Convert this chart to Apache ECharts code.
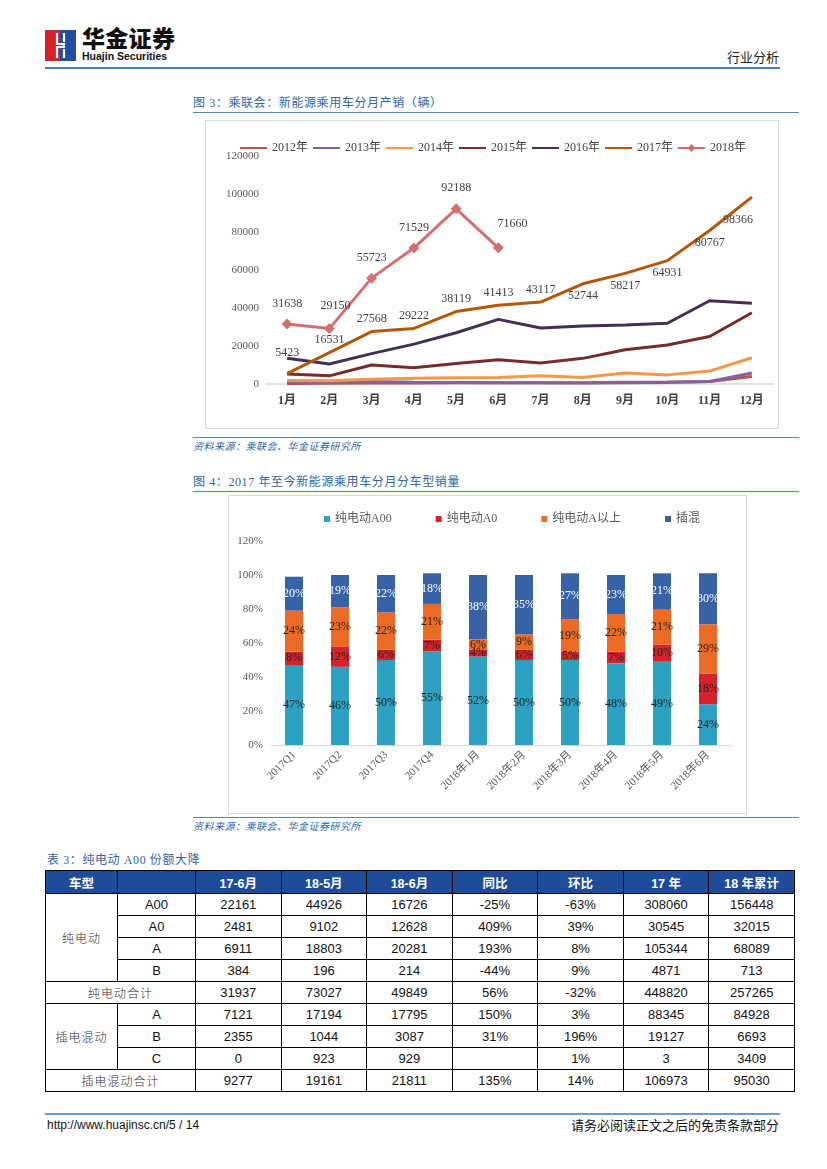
<!DOCTYPE html>
<html><head><meta charset="utf-8">
<script src="https://cdn.jsdelivr.net/npm/echarts@6/dist/echarts.min.js"></script>
<style>
html,body{margin:0;padding:0;background:#fff;}
body{width:827px;height:1169px;position:relative;overflow:hidden;font-family:"Noto Sans CJK SC",sans-serif;}
.abs{position:absolute;white-space:nowrap;}
.hline{position:absolute;height:0;border-top:1.5px solid #4F86BE;}
.ttl{font-family:"Liberation Serif","Noto Sans CJK SC",serif;font-size:12px;color:#2F66A8;letter-spacing:0.6px;}
.src{font-family:"Liberation Serif","Noto Sans CJK SC",serif;font-size:10px;color:#2F66A8;font-style:italic;letter-spacing:0.5px;}
table{border-collapse:collapse;position:absolute;left:45px;top:870px;width:750px;table-layout:fixed;}
td,th{border:1px solid #000;text-align:center;padding:0;height:21px;font-family:"Liberation Sans Narrow","Liberation Sans",Arial,sans-serif;font-size:13px;color:#111;}
th{background:#1E4C9A;color:#fff;font-weight:bold;height:22px;font-family:"Liberation Sans","Noto Sans CJK SC",sans-serif;font-size:12.5px;}
td.cn{font-family:"Noto Sans CJK SC",sans-serif;font-size:12px;color:#333;font-weight:300;letter-spacing:1px;}
</style></head>
<body>
<!-- header -->
<svg class="abs" style="left:45px;top:30px" width="31" height="31" viewBox="0 0 31 31">
  <rect x="0" y="0" width="16" height="31" fill="#D7222A"/>
  <rect x="15" y="0" width="16" height="31" fill="#1E4FA0"/>
  <polyline points="12,3 12,14 19,14 19,17 12,17 12,28" fill="none" stroke="#fff" stroke-width="2.2"/>
  <polyline points="19,3 19,12" fill="none" stroke="#fff" stroke-width="2.2"/>
  <polyline points="19,19 19,28" fill="none" stroke="#fff" stroke-width="2.2"/>
</svg>
<div class="abs" style="left:82px;top:25px;font-size:23px;font-weight:900;color:#111;letter-spacing:0.3px;line-height:25px;">华金证券</div>
<div class="abs" style="left:82px;top:50px;font-size:10.5px;font-weight:bold;color:#111;font-family:'Liberation Sans',Arial,sans-serif;line-height:12px;">Huajin Securities</div>
<div class="abs" style="right:48px;top:48px;font-size:13px;color:#222;line-height:18px;">行业分析</div>
<div class="hline" style="left:45px;width:735px;top:67px;border-top:2px solid #4A7FB5;"></div>

<!-- figure 3 -->
<div class="abs ttl" style="left:193px;top:95px;line-height:16px;">图 3：乘联会：新能源乘用车分月产销（辆）</div>
<div class="hline" style="left:193px;width:606px;top:112px;"></div>
<div class="abs" style="left:205px;top:120px;width:572px;height:307px;border:1px solid #D9D9D9;">
  <div id="c1" style="position:absolute;left:0;top:0;width:572px;height:307px;"></div>
</div>
<div class="hline" style="left:193px;width:606px;top:437px;"></div>
<div class="abs src" style="left:193px;top:440px;line-height:14px;">资料来源：乘联会、华金证券研究所</div>

<!-- figure 4 -->
<div class="abs ttl" style="left:193px;top:474px;line-height:16px;">图 4：2017 年至今新能源乘用车分月分车型销量</div>
<div class="hline" style="left:193px;width:606px;top:491px;"></div>
<div class="abs" style="left:228px;top:495px;width:517px;height:317px;border:1px solid #D9D9D9;">
  <div id="c2" style="position:absolute;left:0;top:0;width:517px;height:317px;"></div>
</div>
<div class="hline" style="left:193px;width:606px;top:817px;"></div>
<div class="abs src" style="left:193px;top:820px;line-height:14px;">资料来源：乘联会、华金证券研究所</div>

<!-- table -->
<div class="abs ttl" style="left:47px;top:852px;line-height:16px;">表 3：纯电动 A00 份额大降</div>
<table id="tbl">
  <colgroup><col style="width:72px"><col style="width:78px"><col><col><col><col><col><col><col></colgroup>
  <thead id="thead"></thead>
  <tbody id="tbody"></tbody>
</table>

<!-- footer -->
<div class="hline" style="left:45px;width:735px;top:1113px;border-top:2px solid #6E9CC4;"></div>
<div class="abs" style="left:47px;top:1117px;font-size:12px;color:#111;font-family:'Liberation Sans',Arial,sans-serif;line-height:16px;">http://www.huajinsc.cn/5 / 14</div>
<div class="abs" style="right:48px;top:1116px;font-size:13px;color:#111;line-height:18px;">请务必阅读正文之后的免责条款部分</div>

<script>
// ---------- Figure 3 data ----------
var months = ['1月','2月','3月','4月','5月','6月','7月','8月','9月','10月','11月','12月'];
var years = ['2012年','2013年','2014年','2015年','2016年','2017年','2018年'];
var s2012 = [300, 400, 500, 500, 600, 700, 600, 700, 900, 1000, 1300, 4000];
var s2013 = [800, 900, 1300, 900, 800, 700, 600, 500, 600, 800, 1300, 5800];
var s2014 = [1800, 1700, 2500, 3000, 3300, 3400, 4400, 3400, 5800, 4800, 6800, 13800];
var s2015 = [5300, 4300, 10000, 8500, 10800, 12800, 11000, 13500, 18000, 20500, 25000, 37500];
var s2016 = [13500, 10500, 16000, 21000, 27000, 34000, 29500, 30500, 31000, 32000, 43800, 42500];
var s2017 = [5423, 16531, 27568, 29222, 38119, 41413, 43117, 52744, 58217, 64931, 80767, 98366];
var s2018 = [31638, 29150, 55723, 71529, 92188, 71660];
var lineColors = ['#C0504D','#8064A2','#F79646','#772C2A','#403152','#B65708','#D3706F'];

// ---------- Figure 4 data ----------
var periods = ['2017Q1','2017Q2','2017Q3','2017Q4','2018年1月','2018年2月','2018年3月','2018年4月','2018年5月','2018年6月'];
var types = ['纯电动A00','纯电动A0','纯电动A以上','插混'];
var pA00 = [47, 46, 50, 55, 52, 50, 50, 48, 49, 24];
var pA0 = [8, 12, 6, 7, 4, 6, 5, 7, 10, 18];
var pAplus = [24, 23, 22, 21, 6, 9, 19, 22, 21, 29];
var pPHEV = [20, 19, 22, 18, 38, 35, 27, 23, 21, 30];
var barColors = ['#2CA1C4','#D4232B','#EC6A23','#3862A8'];

// ---------- Table data ----------
var tHeader = ['车型','','17-6月','18-5月','18-6月','同比','环比','17 年','18 年累计'];
var tBEV = [
  ['A00','22161','44926','16726','-25%','-63%','308060','156448'],
  ['A0','2481','9102','12628','409%','39%','30545','32015'],
  ['A','6911','18803','20281','193%','8%','105344','68089'],
  ['B','384','196','214','-44%','9%','4871','713']
];
var tBEVTotal = ['纯电动合计','31937','73027','49849','56%','-32%','448820','257265'];
var tPHEV = [
  ['A','7121','17194','17795','150%','3%','88345','84928'],
  ['B','2355','1044','3087','31%','196%','19127','6693'],
  ['C','0','923','929','','1%','3','3409']
];
var tPHEVTotal = ['插电混动合计','9277','19161','21811','135%','14%','106973','95030'];

// ---------- build table ----------
(function(){
  var h = '<tr>' + tHeader.map(function(t){return '<th>'+t+'</th>';}).join('') + '</tr>';
  document.getElementById('thead').innerHTML = h;
  var b = '';
  tBEV.forEach(function(r,i){
    b += '<tr>' + (i===0?'<td class="cn" rowspan="4">纯电动</td>':'') + r.map(function(c){return '<td>'+c+'</td>';}).join('') + '</tr>';
  });
  b += '<tr><td class="cn" colspan="2">'+tBEVTotal[0]+'</td>' + tBEVTotal.slice(1).map(function(c){return '<td>'+c+'</td>';}).join('') + '</tr>';
  tPHEV.forEach(function(r,i){
    b += '<tr>' + (i===0?'<td class="cn" rowspan="3">插电混动</td>':'') + r.map(function(c){return '<td>'+c+'</td>';}).join('') + '</tr>';
  });
  b += '<tr><td class="cn" colspan="2">'+tPHEVTotal[0]+'</td>' + tPHEVTotal.slice(1).map(function(c){return '<td>'+c+'</td>';}).join('') + '</tr>';
  document.getElementById('tbody').innerHTML = b;
})();

var serif = '"Liberation Serif","DejaVu Serif","Noto Sans CJK SC",serif';

// ---------- chart 1 ----------
var c1 = echarts.init(document.getElementById('c1'), null, {renderer:'canvas'});
var allLines = [s2012, s2013, s2014, s2015, s2016, s2017, s2018];
var series1 = allLines.map(function(arr, k){
  var s = {
    name: years[k], type: 'line', data: arr, symbol: 'none',
    lineStyle: {width: 3, color: lineColors[k]}, itemStyle: {color: lineColors[k]},
    z: 2 + k, animation: false
  };
  if (k === 5) {
    s.symbol = 'circle'; s.symbolSize = 1; s.showSymbol = true;
    s.data = arr.map(function(v, i){
      var lab = {show: true, position: i < 7 ? 'top' : 'bottom', distance: 6};
      if (i === 0) { lab.distance = 14; }
      if (i === 11) { lab.distance = 16; }
      return {value: v, label: lab};
    });
    s.label = {show: true, fontFamily: serif, fontSize: 12, color: '#404040'};
    s.labelLayout = function(p){
      return p.dataIndex === 11 ? {dx: -14, hideOverlap: false} : {hideOverlap: false};
    };
  }
  if (k === 6) {
    s.symbol = 'diamond'; s.symbolSize = 11;
    s.data = arr.map(function(v, i){
      var lab = {show: true, position: 'top', distance: 9};
      if (i === 1) lab.offset = [6, -2];
      if (i === 5) lab.offset = [14, -4];
      return {value: v, label: lab};
    });
    s.label = {show: true, fontFamily: serif, fontSize: 12, color: '#404040'};
  }
  return s;
});
var legendData1 = years.map(function(y, k){
  return k === 6 ? {name: y} : {name: y, itemStyle: {opacity: 0}};
});
c1.setOption({
  animation: false,
  legend: {
    data: legendData1, left: 28, top: 16, width: 545, itemWidth: 27, itemHeight: 10, itemGap: 4,
    textStyle: {fontFamily: serif, fontSize: 12, color: '#404040'}
  },
  grid: {left: 60, right: 5, top: 35, bottom: 44},
  xAxis: {
    type: 'category', data: months, boundaryGap: true,
    axisLine: {lineStyle: {color: '#D9D9D9', width: 1.5}}, axisTick: {show: false},
    axisLabel: {fontFamily: serif, fontSize: 12, fontWeight: 'bold', color: '#404040', margin: 11}
  },
  yAxis: {
    type: 'value', min: 0, max: 120000, interval: 20000,
    axisLine: {show: false}, axisTick: {show: false}, splitLine: {show: false},
    axisLabel: {fontFamily: serif, fontSize: 11, color: '#595959', margin: 7,
      formatter: function(v){ return String(v); }}
  },
  series: series1
});

// ---------- chart 2 ----------
var c2 = echarts.init(document.getElementById('c2'), null, {renderer:'canvas'});
var bars = [pA00, pA0, pAplus, pPHEV];
c2.setOption({
  animation: false,
  legend: {
    data: types, left: 90, top: 12, icon: 'rect', itemWidth: 6, itemHeight: 6, itemGap: 44,
    textStyle: {fontFamily: serif, fontSize: 12, color: '#595959'}
  },
  grid: {left: 42, right: 15, top: 45, bottom: 68},
  xAxis: {
    type: 'category', data: periods,
    axisLine: {lineStyle: {color: '#D9D9D9'}}, axisTick: {show: false},
    axisLabel: {rotate: 45, fontFamily: serif, fontSize: 11, color: '#595959', margin: 8, interval: 0}
  },
  yAxis: {
    type: 'value', min: 0, max: 120, interval: 20,
    axisLine: {show: false}, axisTick: {show: false}, splitLine: {show: false},
    axisLabel: {formatter: '{value}%', fontFamily: serif, fontSize: 11, color: '#595959', margin: 8}
  },
  series: bars.map(function(arr, k){
    return {
      name: types[k], type: 'bar', stack: 'all', data: arr, barWidth: 18,
      itemStyle: {color: barColors[k]},
      label: {show: true, position: 'inside', formatter: '{c}%', fontFamily: serif, fontSize: 12,
        color: k === 3 ? '#ffffff' : '#262626'}
    };
  })
});
</script>
</body></html>
